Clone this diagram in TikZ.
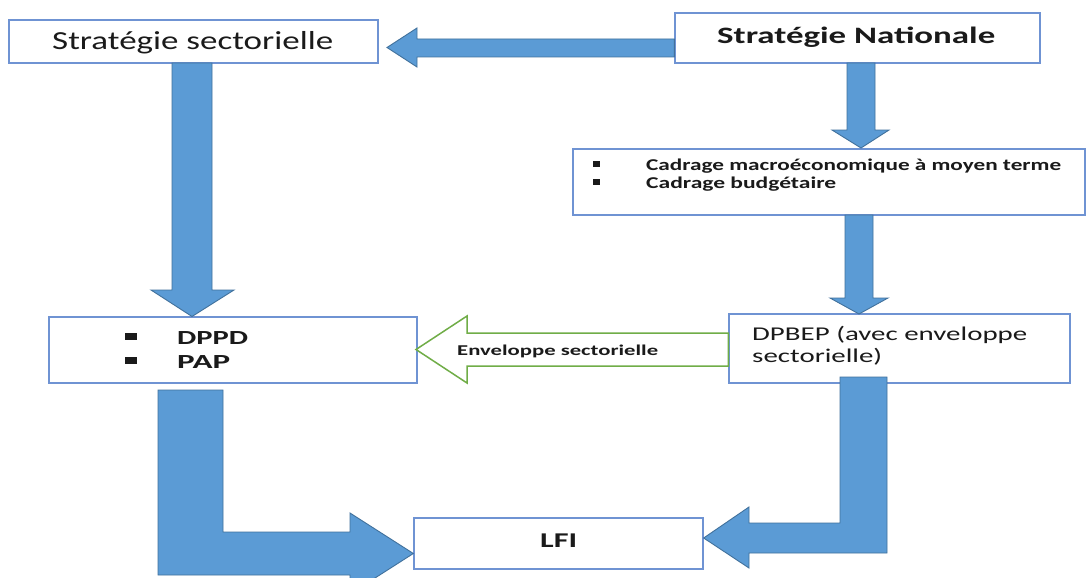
\documentclass[tikz,border=0pt]{standalone}
\usepackage{fontspec}
\setmainfont{Carlito}
\usepackage{graphicx}
\definecolor{boxblue}{HTML}{6F93D3}
\definecolor{arrfill}{HTML}{5B9BD5}
\definecolor{arrline}{HTML}{41719C}
\definecolor{grn}{HTML}{70AD47}
\definecolor{ink}{HTML}{1A1A1A}
\newcommand\fitw[2]{\resizebox{#1pt}{\height}{#2}}
\tikzset{
  box/.style={draw=boxblue, line width=1.3pt, fill=white, inner sep=0pt, rectangle},
  blockarrow/.style={fill=arrfill, draw=arrline, line width=0.9pt, line join=miter},
  hollowarrow/.style={fill=white, draw=grn, line width=1.5pt, line join=miter},
  txt/.style={inner sep=0pt, anchor=base west, text=ink},
  bullet/.style={fill=ink, draw=none}
}
\begin{document}
\begin{tikzpicture}[x=1pt,y=-1pt]
\useasboundingbox (0,0) rectangle (1087,578);
\fill[white] (0,0) rectangle (1087,578);
\clip (0,0) rectangle (1087,578);

% boxes
\node[box, minimum width=369pt, minimum height=43pt] (ss) at (193.5,41.5) {};
\node[box, minimum width=365pt, minimum height=50pt] (sn) at (857.5,38) {};
\node[box, minimum width=512pt, minimum height=66pt] (cad) at (829,182) {};
\node[box, minimum width=368pt, minimum height=66pt] (dppd) at (233,350) {};
\node[box, minimum width=341pt, minimum height=69pt] (dpbep) at (899.5,348.5) {};
\node[box, minimum width=289pt, minimum height=51pt] (lfi) at (558.5,543.5) {};

% texts
\node[txt] (tss) at (52,50) {\fitw{281}{\fontsize{26}{30}\selectfont Stratégie sectorielle}};
\node[txt] (tsn) at (717,43.3) {\fitw{278}{\fontsize{23.5}{28}\selectfont\bfseries Stratégie Nationale}};
\node[txt] (tcad1) at (646,170) {\fitw{415}{\fontsize{16.5}{20}\selectfont\bfseries Cadrage macroéconomique à moyen terme}};
\node[txt] (tcad2) at (646,188) {\fitw{190}{\fontsize{16.5}{20}\selectfont\bfseries Cadrage budgétaire}};
\fill[bullet] (593,161) rectangle (600,167);
\fill[bullet] (593,179) rectangle (600,185);
\node[txt] (tdppd) at (177,344) {\fitw{71}{\fontsize{20}{24}\selectfont\bfseries DPPD}};
\node[txt] (tpap) at (177,368) {\fitw{53}{\fontsize{20}{24}\selectfont\bfseries PAP}};
\fill[bullet] (125,333) rectangle (137,340);
\fill[bullet] (125,357) rectangle (137,364);
\node[txt] (tdp1) at (752,340) {\fitw{275}{\fontsize{19.5}{23}\selectfont DPBEP (avec enveloppe}};
\node[txt] (tdp2) at (752,362) {\fitw{130}{\fontsize{19.5}{23}\selectfont sectorielle)}};
\node[txt] (tlfi) at (540,547) {\fitw{37}{\fontsize{21}{25}\selectfont\bfseries LFI}};

% block arrows
\draw[blockarrow] (sn.west |- 0,39) -- (417,39) -- (417,28) -- (387,47.5) -- (417,67) -- (417,57) -- (sn.west |- 0,57) -- cycle;
\draw[blockarrow] (172,63) -- (172,290) -- (151,290) -- (192,316.5) -- (234,290) -- (212,290) -- (212,63) -- cycle;
\draw[blockarrow] (847,63) -- (847,130) -- (832,130) -- (861,148) -- (889,130) -- (875,130) -- (875,63) -- cycle;
\draw[blockarrow] (845,215) -- (845,298) -- (830,298) -- (859,314) -- (888,298) -- (873,298) -- (873,215) -- cycle;
\draw[hollowarrow] (dpbep.west |- 0,333) -- (467,333) -- (467,316) -- (416,349.5) -- (467,383) -- (467,366) -- (dpbep.west |- 0,366) -- cycle;
\node[txt] (tenv) at (457,355) {\fitw{201}{\fontsize{15}{18}\selectfont\bfseries Enveloppe sectorielle}};
\draw[blockarrow] (158,390) -- (158,575) -- (350,575) -- (350,594) -- (lfi.west |- 0,553.5) -- (350,513) -- (350,532) -- (223,532) -- (223,390) -- cycle;
\draw[blockarrow] (887,377) -- (887,553) -- (749,553) -- (749,568) -- (lfi.east |- 0,538) -- (749,507) -- (749,523) -- (840,523) -- (840,377) -- cycle;
\end{tikzpicture}
\end{document}
